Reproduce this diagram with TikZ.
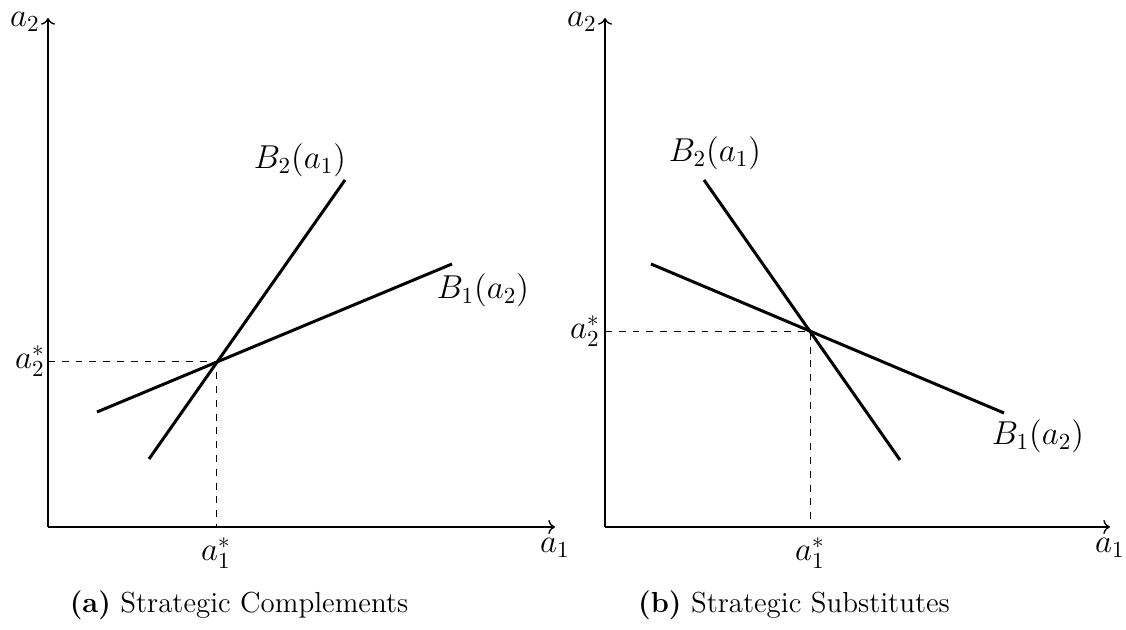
\documentclass[tikz,border=0pt]{standalone}
\usetikzlibrary{arrows.meta}
\begin{document}
\begin{tikzpicture}[x=0.435pt,y=-0.435pt,
  axis/.style={semithick,->},
  curve/.style={line width=1.3pt},
  guide/.style={thin,dashed},
  lbl/.style={font=\fontsize{14.2}{17}\selectfont,inner sep=0pt},
  captext/.style={font=\fontsize{12.6}{15}\selectfont,inner sep=0pt}]
\useasboundingbox (0,0) rectangle (1126,630);
% ---------- left panel ----------
\coordinate (O1) at (48,527);
\coordinate (Y1) at (48,18);
\coordinate (X1) at (555,527);
\draw[axis] (O1) -- (Y1);
\draw[axis] (O1) -- (X1);
\node[lbl] (ya1) at (25,22) {$a_2$};
\node[lbl] (xa1) at (555,548) {$a_1$};
\coordinate (b1s) at (97,412);
\coordinate (b1e) at (452,264);
\coordinate (b2s) at (149,459);
\coordinate (b2e) at (345,180);
\coordinate (E1) at (216,361);
\coordinate (E1y) at (48,361);
\coordinate (E1x) at (216,527);
\draw[guide] (E1y) -- (E1) -- (E1x);
\draw[curve] (b1s) -- (b1e);
\draw[curve] (b2s) -- (b2e);
\node[lbl] (s2a) at (30,361) {$a_2^*$};
\node[lbl] (s1a) at (216,553) {$a_1^*$};
\node[lbl] (B2a) at (300,160) {$B_2(a_1)$};
\node[lbl] (B1a) at (483,290) {$B_1(a_2)$};
\node[captext] (capa) at (239,605) {\textbf{(a)} Strategic Complements};
% ---------- right panel ----------
\coordinate (O2) at (605,527);
\coordinate (Y2) at (605,18);
\coordinate (X2) at (1110,527);
\draw[axis] (O2) -- (Y2);
\draw[axis] (O2) -- (X2);
\node[lbl] (ya2) at (582,22) {$a_2$};
\node[lbl] (xa2) at (1110,548) {$a_1$};
\coordinate (c1s) at (651,264);
\coordinate (c1e) at (1004,413);
\coordinate (c2s) at (704,180);
\coordinate (c2e) at (900,460);
\coordinate (E2) at (810,331);
\coordinate (E2y) at (605,331);
\coordinate (E2x) at (810,527);
\draw[guide] (E2y) -- (E2) -- (E2x);
\draw[curve] (c1s) -- (c1e);
\draw[curve] (c2s) -- (c2e);
\node[lbl] (s2b) at (585,331) {$a_2^*$};
\node[lbl] (s1b) at (810,553) {$a_1^*$};
\node[lbl] (B2b) at (715,153) {$B_2(a_1)$};
\node[lbl] (B1b) at (1038,436) {$B_1(a_2)$};
\node[captext] (capb) at (794,605) {\textbf{(b)} Strategic Substitutes};
\end{tikzpicture}
\end{document}
